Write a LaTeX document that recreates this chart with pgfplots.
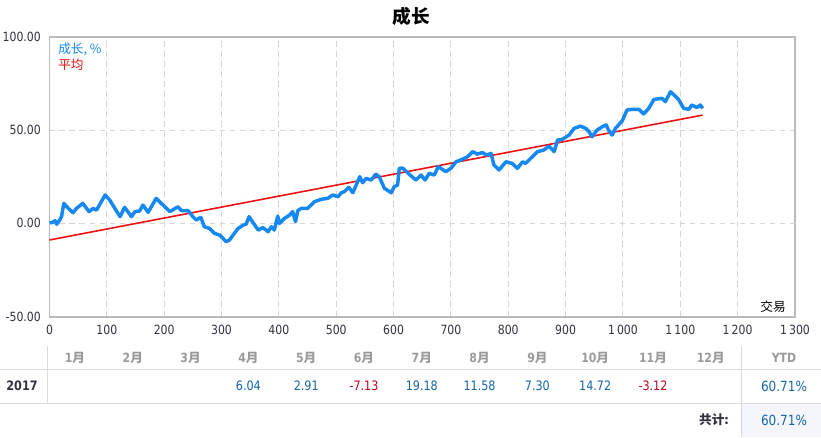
\documentclass[border=0pt]{standalone}
\usepackage{pgfplots}
\pgfplotsset{compat=1.18}
\usepackage{pgfplotstable}
\usepackage{fontspec}
\newfontfamily\tah{DejaVu Sans}[FakeStretch=0.86]
\newfontfamily\cjk{Noto Sans CJK SC}
\definecolor{lineblue}{HTML}{1588F2}
\definecolor{linered}{HTML}{EE1111}
\definecolor{valblue}{HTML}{1565A8}
\definecolor{valred}{HTML}{C40020}
\definecolor{hdrgray}{HTML}{9A9A9A}
\definecolor{tickcol}{HTML}{333340}
\definecolor{gridcol}{HTML}{D6D6D6}
\definecolor{framecol}{HTML}{BBBBBB}
\definecolor{tabline}{HTML}{DADADA}
\definecolor{ytdbg}{HTML}{F4F6FC}

\pgfplotstableread{
x y
0 0.3
4 0.4
10 1.4
12.5 -0.5
17 1.4
21 3.6
25 10.7
33 8
41 5.7
47 8
58 10.7
69 6.3
76 8
82 7.1
87 9.8
97 15.2
105 12.5
114 8
123 3.6
131 8.6
143 3.6
149 6.3
157 6.6
163 9.8
172 5.9
186 13.4
198 9.8
210 6.3
224 8.9
230 6.8
242 6.8
250 3.6
256 1.8
264 3.2
270 -1.8
279 -2.7
288 -5.4
297 -6.3
308 -9.8
314 -8.9
320 -6.3
329 -2.7
338 -0.9
343 -0.4
348 3.6
355 0.4
364 -3.6
372 -2.3
378 -3.6
381 -4.5
387 -1.8
392 -3.6
398 3.9
401 0
410 2.7
419 4.5
424 6.3
429 0.9
433 6.8
439 8
450 8
462 11.6
474 12.9
485 13.4
494 15.2
503 14.3
509 16.4
514 17
522 19.3
529 16.4
541 25
546 21.8
552 24.1
561 23.2
569 26.4
575 25
584 18.8
596 16.4
601 19.6
607 20.5
610 29.5
616 29.6
627 26.4
639 23.2
648 25.9
655 23.2
662 26.8
671 25.9
678 30.4
691 27.7
700 29.5
709 33
720 34.3
729 35.7
738 38.4
746 37.1
755 37.9
762 36.6
770 37.5
775 31.3
784 28.6
796 33
807 32.1
816 29.5
825 33
830 32.1
839 34.8
851 38.4
862 39.3
871 41.4
880 38.4
886 44.6
894 45
906 47.3
915 50.9
926 52.1
935 50.9
941 49.1
946 46.4
955 50
964 51.8
971 52.7
974 50.4
981 47.3
987 50.9
999 55
1007 60.7
1016 61.1
1028 61.1
1036 58.6
1045 61.6
1054 66.4
1068 67
1074 65.2
1083 70.5
1089 68.8
1097 66.4
1106 61.6
1115 61.1
1120 63.4
1129 62.1
1135 63.4
1139 61.6
}\growth

\pgfplotstableread{
x y
0 -8.9
1139 58.0
}\avgline

\begin{document}
\begin{tikzpicture}[x=0.75pt,y=0.75pt]
\path[use as bounding box] (0,0) rectangle (821,437);
\begin{axis}[
  at={(37.125pt,90.225pt)}, anchor=south west,
  scale only axis, width=559.1pt, height=210pt,
  xmin=0, xmax=1300, ymin=-50, ymax=100,
  xtick={0,100,...,1300},
  xticklabels={0,100,200,300,400,500,600,700,800,900,1\,000,1\,100,1\,200,1\,300},
  ytick={-50,0,50,100},
  yticklabels={-50.00,0.00,50.00,100.00},
  extra y ticks={0}, extra y tick labels={},
  extra y tick style={grid style={solid, draw=gridcol, line width=0.8pt}},
  tick style={draw=none},
  major tick length=0pt,
  grid=major,
  major grid style={draw=gridcol, line width=0.8pt, dash pattern=on 4pt off 3.5pt},
  axis line style={draw=framecol, line width=1.3pt},
  xticklabel style={font=\tah\fontsize{9.5}{11}\selectfont, text=tickcol, yshift=-3pt},
  yticklabel style={font=\tah\fontsize{9.5}{11}\selectfont, text=tickcol, xshift=-3pt},
  clip=false,
]
\addplot[draw=linered, line width=1.2pt] table[x=x,y=y] {\avgline};
\addplot[draw=lineblue, line width=2.6pt, line join=round] table[x=x,y=y] {\growth};
\end{axis}

% title and legend
\node at (411,421) {\cjk\bfseries\fontsize{14}{16}\selectfont 成长};
\node[anchor=west, inner sep=0pt, text=lineblue] at (58,388) {\cjk\fontsize{9.5}{11}\selectfont 成长, \%};
\node[anchor=west, inner sep=0pt, text=linered] at (58,372) {\cjk\fontsize{9.5}{11}\selectfont 平均};
\node[inner sep=0pt] at (773,130) {\cjk\fontsize{9.5}{11}\selectfont 交易};

% table
\fill[ytdbg] (742,0) rectangle (821,33.5);
\draw[tabline, line width=1pt] (0,67.5) -- (821,67.5);
\draw[tabline, line width=1pt] (0,33.7) -- (821,33.7);
\draw[tabline, line width=1pt] (47.7,91) -- (47.7,33.7);
\draw[tabline, line width=1pt] (741.7,91) -- (741.7,0);

\foreach \m [count=\i from 0] in {1,2,3,4,5,6,7,8,9,10,11,12} {
  \node[text=hdrgray, inner sep=0pt] at ({75+\i*57.8},79)
    {{\tah\bfseries\fontsize{9.5}{11}\selectfont\m}{\cjk\bfseries\fontsize{9.5}{11}\selectfont 月}};
}
\node[text=hdrgray, inner sep=0pt] at (784,79) {\tah\bfseries\fontsize{9.5}{11}\selectfont YTD};

\node[text=tickcol, inner sep=0pt] at (22,51) {\tah\bfseries\fontsize{9.75}{11}\selectfont 2017};
\foreach \v/\c [count=\i from 3] in {6.04/valblue,2.91/valblue,-7.13/valred,19.18/valblue,11.58/valblue,7.30/valblue,14.72/valblue,-3.12/valred} {
  \node[text=\c, inner sep=0pt] at ({75+\i*57.8},51) {\tah\fontsize{9.75}{11}\selectfont\v};
}
\node[text=valblue, inner sep=0pt] at (784,51) {\tah\fontsize{10.5}{12}\selectfont 60.71\%};
\node[text=tickcol, inner sep=0pt] at (714,17) {\cjk\bfseries\fontsize{9.5}{11}\selectfont 共计:};
\node[text=valblue, inner sep=0pt] at (784,17) {\tah\fontsize{10.5}{12}\selectfont 60.71\%};
\end{tikzpicture}
\end{document}
